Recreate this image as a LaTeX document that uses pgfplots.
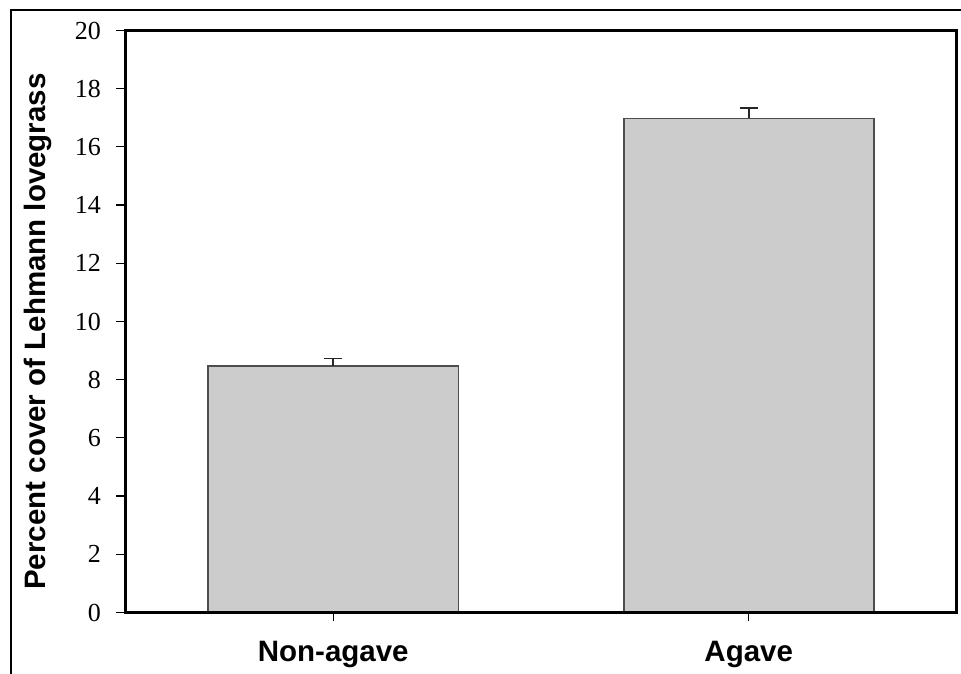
\documentclass[border=0pt]{standalone}
\usepackage{fontspec}
\setmainfont{Liberation Serif}
\newfontfamily\arial{Liberation Sans}
\usepackage{pgfplots}
\pgfplotsset{compat=1.18}
\definecolor{barfill}{HTML}{CCCCCC}
\definecolor{baredge}{HTML}{4D4D4D}
\begin{document}
\begin{tikzpicture}
\useasboundingbox (-125.5pt,-61.5pt) rectangle (835.5pt,612.5pt);
\draw[line width=2.5pt] (-114.5pt,-62pt) -- (-114.5pt,602.5pt) -- (836pt,602.5pt);
\begin{axis}[
  at={(0pt,0pt)}, anchor=south west, scale only axis,
  width=831pt, height=582pt,
  xmin=0.5, xmax=2.5, ymin=0, ymax=20,
  ytick={0,2,...,20}, xtick={1,2}, xticklabels={Non-agave,Agave},
  tick align=outside, tick pos=left, major tick length=9pt,
  axis line style={line width=2.5pt},
  every tick/.style={black, line width=1.2pt},
  axis on top,
  /pgf/number format/assume math mode=true,
  yticklabel style={font=\fontsize{26}{30}\selectfont, xshift=-12pt},
  xticklabel style={font=\fontsize{29.5}{35}\selectfont\arial\bfseries, yshift=-16pt},
  ylabel={Percent cover of Lehmann lovegrass},
  ylabel style={font=\fontsize{29.5}{35}\selectfont\arial\bfseries,
    at={(axis description cs:0,0.5)}, anchor=center, yshift=87.5pt, xshift=-10pt},
  ybar, bar width=250pt,
]
\addplot[fill=barfill, draw=baredge, line width=1.5pt,
  error bars/.cd, y dir=plus, y explicit,
  error bar style={line width=1.6pt, color=black!85},
  error mark options={rotate=90, mark size=9pt, line width=1.6pt, color=black!85}]
  coordinates {(1,8.47) +- (0,0.26) (2,16.98) +- (0,0.36)};
\end{axis}
\end{tikzpicture}
\end{document}
